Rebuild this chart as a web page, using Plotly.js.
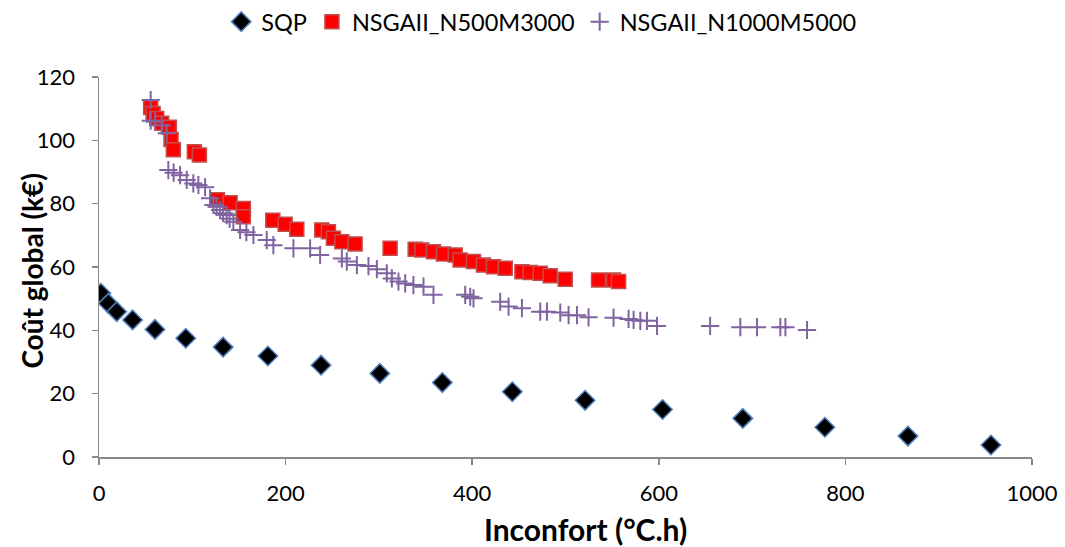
<!DOCTYPE html>
<html>
<head>
<meta charset="utf-8">
<script src="https://cdn.plot.ly/plotly-3.0.1.min.js"></script>
<style>html,body{margin:0;padding:0;background:#fff;}#chart{width:1065px;height:547px;}</style>
</head>
<body>
<div id="chart"></div>
<script>
const seriesNames = ["SQP", "NSGAII_N500M3000", "NSGAII_N1000M5000"];

const sqpX = [2, 10, 19, 36, 60, 93, 133, 181, 238, 301, 368, 443, 521, 604, 690, 778, 867, 956];
const sqpY = [51.7, 48.5, 45.9, 43.3, 40.3, 37.5, 34.7, 31.9, 29.0, 26.4, 23.5, 20.6, 17.9, 15.0, 12.2, 9.4, 6.6, 3.8];

const n500X = [55.4, 58, 61.9, 67.2, 75.4, 77.2, 79.7, 102.2, 107.6, 126.9, 140.5, 154.7, 154.7, 186.3, 199.5, 212, 238.8, 245.9, 251.3, 260.3, 274.5, 312, 338.9, 346, 358.5, 369.2, 381.8, 387.1, 401.4, 412.1, 422.8, 435.4, 453.3, 462.2, 472.9, 483.6, 499.7, 535.4, 551.5, 556.9];
const n500Y = [110.4, 108.5, 106.9, 105.4, 104.1, 100.3, 97.0, 96.4, 95.4, 81.2, 80.3, 78.5, 75.9, 74.8, 73.5, 71.9, 71.7, 71.1, 69.1, 68.0, 67.3, 65.9, 65.6, 65.4, 64.8, 64.1, 63.8, 62.2, 61.7, 60.6, 60.1, 59.6, 58.5, 58.3, 58.0, 57.2, 56.1, 55.9, 55.9, 55.4];

const n1000X = [55.4, 55.4, 60.1, 67.2, 72.6, 74.3, 80, 86.9, 94.0, 101.1, 106.5, 113.7, 119.0, 122.6, 126, 129.8, 133, 136.9, 140, 144.0, 151.2, 158, 165.5, 179.8, 186.9, 208.4, 226.3, 237, 260.3, 265.6, 276.4, 288.8, 297.8, 308.5, 313.9, 321, 328.2, 337, 347.8, 358.5, 392.5, 397.9, 401.4, 430, 439, 453.3, 472.9, 480.1, 494.4, 503.3, 512.3, 524.7, 551.5, 567.6, 573, 580.2, 587.3, 598.1, 655, 687.4, 705.3, 730.3, 735.7, 758.9];
const n1000Y = [112.7, 106.2, 105.9, 104.8, 102.2, 90.6, 89.8, 89.0, 87.5, 86.4, 85.9, 85.2, 81.7, 79.6, 79.0, 78.0, 77.0, 76.4, 75.2, 74.3, 71.7, 71.0, 70.1, 68.5, 66.9, 65.9, 65.9, 63.8, 62.7, 61.7, 60.6, 60.3, 59.3, 58.0, 56.4, 55.4, 54.8, 54.3, 53.8, 51.2, 51.2, 50.6, 50.1, 49.0, 47.5, 47.0, 45.9, 45.9, 45.6, 44.8, 44.8, 44.1, 44.0, 43.6, 43.3, 43.0, 43.0, 41.4, 41.4, 41.0, 41.0, 41.0, 41.0, 40.1];

const xTicks = [0, 200, 400, 600, 800, 1000];
const yTicks = [0, 20, 40, 60, 80, 100, 120];
const xTitle = "Inconfort (°C.h)";
const yTitle = "Coût global (k€)";

const fontFam = "Lato, 'Open Sans', sans-serif";

const traces = [
  {
    x: sqpX, y: sqpY, name: seriesNames[0], type: "scatter", mode: "markers",
    marker: {symbol: "diamond", size: 15, color: "#000000", line: {color: "#4F81BD", width: 1.5}}
  },
  {
    x: n500X, y: n500Y, name: seriesNames[1], type: "scatter", mode: "markers",
    marker: {symbol: "square", size: 14, color: "#FF0000", line: {color: "#C0504D", width: 1.5}}
  },
  {
    x: n1000X, y: n1000Y, name: seriesNames[2], type: "scatter", mode: "markers",
    marker: {symbol: "cross-thin", size: 13, color: "#8064A2", line: {color: "#8064A2", width: 2}}
  }
];

const axisCommon = {
  showgrid: false, zeroline: false, showline: true, linecolor: "#898989", linewidth: 1.5,
  ticks: "outside", ticklen: 6, tickcolor: "#898989", tickwidth: 1.5,
  tickfont: {family: fontFam, size: 22, color: "#000"}
};

const layout = {
  width: 1065, height: 547,
  margin: {l: 99, r: 33, t: 77, b: 90},
  paper_bgcolor: "#fff", plot_bgcolor: "#fff",
  showlegend: true,
  legend: {orientation: "h", x: 0.474, xanchor: "center", y: 0.96, yanchor: "middle",
           yref: "container", font: {family: fontFam, size: 23.5, color: "#000"}, itemwidth: 30},
  xaxis: Object.assign({}, axisCommon, {
    range: [0, 1000], tickvals: xTicks, ticktext: xTicks.map(String), ticklabelstandoff: 10
  }),
  yaxis: Object.assign({}, axisCommon, {
    range: [0, 120], tickvals: yTicks, ticktext: yTicks.map(String), ticklabelstandoff: 12
  }),
  annotations: [
    {text: "<b>" + xTitle + "</b>", xref: "paper", yref: "paper", x: 0.521, y: -0.19,
     xanchor: "center", yanchor: "middle", showarrow: false,
     font: {family: fontFam, size: 30, color: "#000"}},
    {text: "<b>" + yTitle + "</b>", xref: "paper", yref: "paper", x: -0.072, y: 0.49,
     xanchor: "center", yanchor: "middle", showarrow: false, textangle: -90,
     font: {family: fontFam, size: 28, color: "#000"}}
  ]
};

Plotly.newPlot("chart", traces, layout, {displayModeBar: false, staticPlot: true});
</script>
</body>
</html>
